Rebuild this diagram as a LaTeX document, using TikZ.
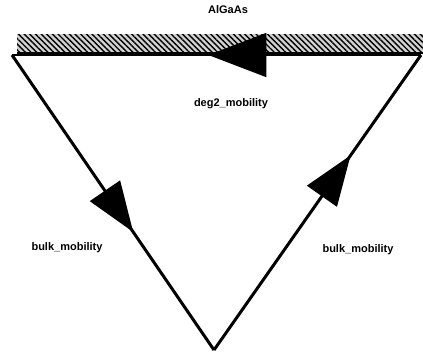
\documentclass[tikz,border=0pt]{standalone}
\usepackage{fontspec}
\setmainfont{Liberation Sans}
\usetikzlibrary{arrows.meta,decorations.markings,patterns.meta}

\tikzset{
  edgeline/.style={line width=1.5pt},
  midarrow/.style={postaction={decorate},
    decoration={markings,mark=at position #1 with {\arrow{Triangle[length=25pt,width=18pt]}}}},
  toparrow/.style={postaction={decorate},
    decoration={markings,mark=at position #1 with {\arrow{Triangle[length=29pt,width=22pt]}}}},
  tag/.style={font=\fontsize{5.5}{6}\selectfont\bfseries, inner sep=1pt}
}

\begin{document}
\begin{tikzpicture}[x=0.5pt,y=-0.5pt]
    \useasboundingbox (0,0) rectangle (423,355);
    % layer strip
    \fill[gray!35] (17,34) rectangle (423,53);
    \fill[pattern={Lines[angle=-45,distance=2pt,line width=0.7pt]}] (17,34) rectangle (423,53);
    \draw[line width=0.6pt] (17,53) -- (423,53);
    % corners of the loop
    \coordinate (tl) at (12,55);
    \coordinate (tr) at (421,55);
    \coordinate (bt) at (214,350);
    % edges
    \draw[edgeline, midarrow=0.60] (tl) -- (bt);
    \draw[edgeline, midarrow=0.66] (bt) -- (tr);
    \draw[line width=0.8pt, toparrow=0.52] (tr) -- (tl);
    % labels
    \node[tag] (algaas) at (228,10) {AlGaAs};
    \node[tag] (deg2) at (231,104) {deg2\_mobility};
    \node[tag] (bulkl) at (67,248) {bulk\_mobility};
    \node[tag] (bulkr) at (358,250) {bulk\_mobility};
\end{tikzpicture}
\end{document}
